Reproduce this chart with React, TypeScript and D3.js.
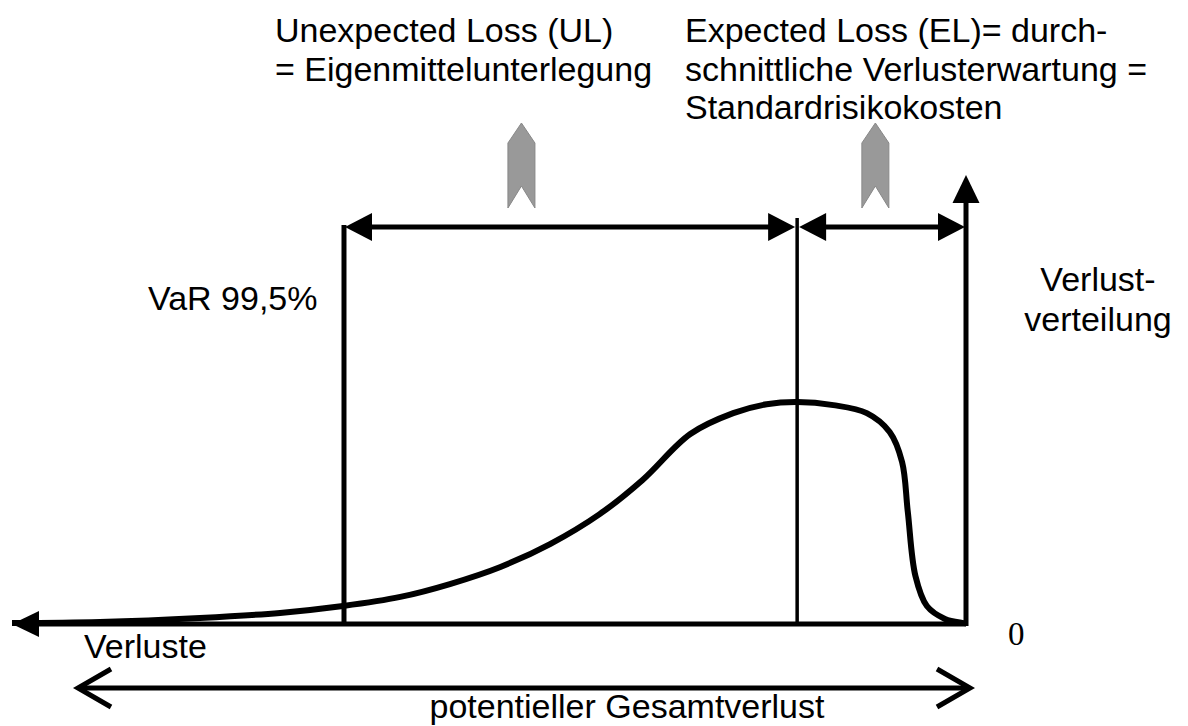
import * as d3 from "d3";
import { useEffect, useRef } from "react";

// loss distribution (loss 0 = right axis, 100 = left end)
const lossValues = [100, 90.8, 80.3, 71.9, 65.3, 59.3, 54.1, 48.8, 43.6, 38.4, 33.9, 28.9, 24.4, 20.9, 17.7, 13.9, 10.4, 8.0, 6.7, 6.1, 5.3, 4.1, 2.2, 0.4, 0];
const densityValues = [0.004, 0.009, 0.027, 0.05, 0.081, 0.122, 0.18, 0.257, 0.36, 0.495, 0.649, 0.856, 0.95, 0.99, 1.0, 0.986, 0.95, 0.865, 0.73, 0.505, 0.216, 0.081, 0.023, 0.005, 0.003];

const varLoss = 65.2;
const elLoss = 17.7;
const grayArrowLoss = [46.6, 9.5];

const ulLines = ["Unexpected Loss (UL)", "= Eigenmittelunterlegung"];
const elLines = ["Expected Loss (EL)= durch-", "schnittliche Verlusterwartung =", "Standardrisikokosten"];
const yAxisLines = ["Verlust-", "verteilung"];
const varLabel = "VaR 99,5%";
const xAxisLabel = "Verluste";
const zeroTick = "0";
const totalLabel = "potentieller Gesamtverlust";

const W = 1188;
const H = 726;
const SANS = "'Liberation Sans', Arial, sans-serif";

const App = () => {
  const svgRef = useRef<SVGSVGElement | null>(null);

  useEffect(() => {
    document.body.style.margin = "0";
    const svg = d3.select(svgRef.current);
    svg.selectAll("*").remove();
    svg.attr("width", W).attr("height", H);

    const x = d3.scaleLinear().domain([0, 100]).range([966, 12]);
    const y = d3.scaleLinear().domain([0, 1]).range([624, 402]);
    const baseY = y(0);
    const topY = 227;

    const tri = (tipX: number, tipY: number, dir: "l" | "r" | "u", len: number, half: number) => {
      if (dir === "l") return `M${tipX},${tipY}L${tipX + len},${tipY - half}L${tipX + len},${tipY + half}Z`;
      if (dir === "r") return `M${tipX},${tipY}L${tipX - len},${tipY - half}L${tipX - len},${tipY + half}Z`;
      return `M${tipX},${tipY}L${tipX - half},${tipY + len}L${tipX + half},${tipY + len}Z`;
    };

    // baseline with left arrow
    svg.append("line").attr("x1", x(100) + 20).attr("x2", x(0)).attr("y1", baseY).attr("y2", baseY)
      .attr("stroke", "#000").attr("stroke-width", 5);
    svg.append("path").attr("d", tri(x(100), baseY, "l", 27, 13)).attr("fill", "#000");

    // right axis with up arrow
    svg.append("line").attr("x1", x(0)).attr("x2", x(0)).attr("y1", baseY + 2).attr("y2", 195)
      .attr("stroke", "#000").attr("stroke-width", 5);
    svg.append("path").attr("d", tri(x(0), 175, "u", 28, 13.5)).attr("fill", "#000");

    // VaR and EL verticals
    svg.append("line").attr("x1", x(varLoss)).attr("x2", x(varLoss)).attr("y1", topY - 2).attr("y2", baseY)
      .attr("stroke", "#000").attr("stroke-width", 5);
    svg.append("line").attr("x1", x(elLoss)).attr("x2", x(elLoss)).attr("y1", 218).attr("y2", baseY)
      .attr("stroke", "#000").attr("stroke-width", 3.5);

    // UL double arrow
    const ulL = x(varLoss) + 1;
    const ulR = x(elLoss) - 2;
    svg.append("line").attr("x1", ulL + 20).attr("x2", ulR - 20).attr("y1", topY).attr("y2", topY)
      .attr("stroke", "#000").attr("stroke-width", 5);
    svg.append("path").attr("d", tri(ulL, topY, "l", 27, 14)).attr("fill", "#000");
    svg.append("path").attr("d", tri(ulR, topY, "r", 27, 14)).attr("fill", "#000");

    // EL double arrow
    const elL = x(elLoss) + 2;
    const elR = x(0) - 1;
    svg.append("line").attr("x1", elL + 20).attr("x2", elR - 20).attr("y1", topY).attr("y2", topY)
      .attr("stroke", "#000").attr("stroke-width", 5);
    svg.append("path").attr("d", tri(elL, topY, "l", 27, 14)).attr("fill", "#000");
    svg.append("path").attr("d", tri(elR, topY, "r", 27, 14)).attr("fill", "#000");

    // distribution curve
    const pts: [number, number][] = lossValues.map((l, i) => [x(l), y(densityValues[i])]);
    const line = d3.line().curve(d3.curveCatmullRom.alpha(0.5));
    svg.append("path").attr("d", line(pts)).attr("fill", "none").attr("stroke", "#000")
      .attr("stroke-width", 6).attr("stroke-linejoin", "round");

    // gray block arrows
    grayArrowLoss.forEach((l) => {
      const cx = x(l);
      const hw = 13.5;
      const d = `M${cx},123L${cx + hw},143L${cx + hw},208L${cx},186L${cx - hw},208L${cx - hw},143Z`;
      svg.append("path").attr("d", d).attr("fill", "#999").attr("stroke", "#888").attr("stroke-width", 1);
    });

    // bottom double arrow (open heads)
    const bY = 688;
    const bL = 78;
    const bR = 970;
    svg.append("line").attr("x1", bL + 2).attr("x2", bR - 2).attr("y1", bY).attr("y2", bY)
      .attr("stroke", "#000").attr("stroke-width", 5);
    svg.append("path").attr("d", `M${bL + 33},${bY - 19}L${bL},${bY}L${bL + 33},${bY + 19}`)
      .attr("fill", "none").attr("stroke", "#000").attr("stroke-width", 5);
    svg.append("path").attr("d", `M${bR - 33},${bY - 19}L${bR},${bY}L${bR - 33},${bY + 19}`)
      .attr("fill", "none").attr("stroke", "#000").attr("stroke-width", 5);

    // texts
    const txt = (s: string, tx: number, ty: number, anchor = "start", family = SANS, size = 34) =>
      svg.append("text").attr("x", tx).attr("y", ty).attr("text-anchor", anchor)
        .attr("font-family", family).attr("font-size", size).attr("fill", "#000").text(s);

    ulLines.forEach((s, i) => txt(s, 275, 42 + i * 38.5));
    elLines.forEach((s, i) => txt(s, 685, 42 + i * 38.5));
    yAxisLines.forEach((s, i) => txt(s, 1098, 291 + i * 40, "middle"));
    txt(varLabel, 148, 310);
    txt(xAxisLabel, 84, 658);
    txt(zeroTick, x(0) + 42, 645, "start", "'Liberation Serif', 'Times New Roman', serif", 33);
    txt(totalLabel, 627, 718, "middle");
  }, []);

  return <svg ref={svgRef} style={{ display: "block" }}></svg>;
};

export default App;
